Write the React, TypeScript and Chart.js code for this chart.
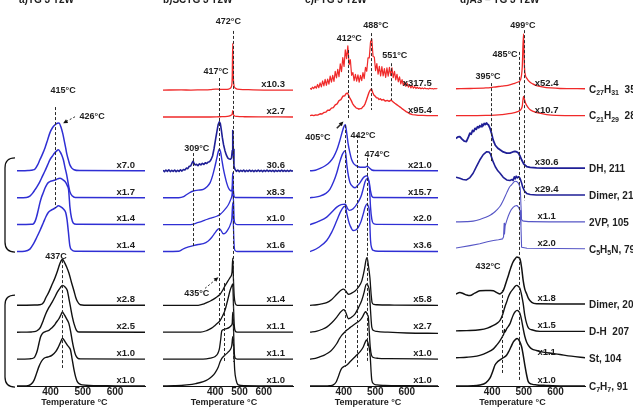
import { useEffect, useRef } from "react";
import { Chart, registerables } from "chart.js";

Chart.register(...registerables);

type Pt = [number, number];

// ---------- a) ----------
const aBlue1: Pt[] = [[296,0],[330,0.01],[345,0.03],[352,0.07],[360,0.22],[367,0.41],[375,0.62],[383,0.86],[391,1.15],[398,1.41],[406,1.6],[414,1.71],[421,1.77],[426,1.78],[433,1.6],[438,1.38],[442,1.15],[447,0.85],[451,0.6],[456,0.38],[460,0.22],[466,0.1],[473,0.04],[490,0.01],[693,0]];
const aBlue2: Pt[] = [[296,0],[325,0.01],[336,0.06],[344,0.16],[352,0.3],[360,0.45],[367,0.6],[375,0.8],[383,1.0],[391,1.22],[398,1.41],[406,1.55],[412,1.65],[419,1.74],[424,1.78],[430,1.7],[435,1.58],[440,1.4],[445,1.12],[450,0.86],[456,0.45],[460,0.22],[468,0.06],[476,0.01],[693,0]];
const aBlue3: Pt[] = [[296,0],[340,0.01],[347,0.03],[352,0.12],[357,0.3],[362,0.55],[367,0.81],[372,1.02],[378,1.2],[383,1.36],[388,1.48],[393,1.56],[398,1.6],[406,1.63],[414,1.66],[422,1.7],[429,1.72],[437,1.68],[445,1.6],[452,1.45],[456,1.3],[458,1.0],[460,0.67],[465,0.25],[471,0.05],[480,0.01],[693,0]];
const aBlue4: Pt[] = [[296,0],[320,0.01],[336,0.09],[347,0.28],[357,0.52],[368,0.8],[378,1.08],[386,1.3],[393,1.45],[401,1.53],[409,1.58],[417,1.64],[424,1.7],[432,1.66],[440,1.58],[447,1.45],[451,1.2],[455,0.77],[460,0.21],[466,0.06],[476,0.01],[693,0]];
const aBlack1: Pt[] = [[296,0],[350,0.01],[365,0.02],[374,0.05],[380,0.14],[385,0.27],[395,0.5],[405,0.78],[413,1.0],[421,1.26],[430,1.58],[437,1.71],[444,1.58],[450,1.42],[457,1.2],[465,0.85],[473,0.52],[478,0.3],[483,0.15],[492,0.02],[520,0],[693,0]];
const aBlack2: Pt[] = [[296,0],[340,0.01],[354,0.03],[362,0.09],[369,0.19],[377,0.42],[385,0.68],[395,0.92],[405,1.12],[413,1.3],[421,1.49],[430,1.65],[437,1.74],[445,1.68],[452,1.55],[457,1.25],[462,0.93],[468,0.55],[473,0.31],[480,0.08],[488,0.01],[693,0]];
const aBlack3: Pt[] = [[296,0],[335,0.01],[349,0.05],[354,0.15],[359,0.32],[364,0.58],[369,0.82],[374,0.94],[380,1.0],[388,1.04],[395,1.07],[403,1.15],[411,1.25],[418,1.37],[426,1.5],[432,1.64],[437,1.75],[442,1.66],[447,1.56],[452,1.45],[457,1.32],[462,1.05],[467,0.7],[472,0.4],[478,0.14],[485,0.03],[493,0.01],[693,0]];
const aBlack4: Pt[] = [[296,0],[325,0],[333,0.02],[341,0.08],[349,0.22],[357,0.48],[364,0.72],[372,0.92],[380,1.03],[388,1.07],[395,1.09],[405,1.15],[416,1.28],[423,1.42],[430,1.6],[437,1.77],[445,1.65],[452,1.52],[458,1.43],[462,1.34],[467,1.0],[473,0.59],[478,0.33],[483,0.16],[490,0.08],[499,0.04],[560,0.01],[620,0],[693,0]];
const aOffsets = [8, 7, 6, 5, 3, 2, 1, 0];
const aFactors = ["x7.0", "x1.7", "x1.4", "x1.4", "x2.8", "x2.5", "x1.0", "x1.0"];
const aPeaks = [415, 426, 437];

// ---------- b) ----------
const bRed1: Pt[] = [[185,0],[260,0.01],[300,0],[340,0.01],[380,0.02],[400,0.04],[420,0.03],[440,0.03],[455,0.04],[462,0.07],[467,0.15],[470,0.5],[472,1.74],[474,0.6],[477,0.18],[482,0.08],[490,0.04],[520,0.02],[600,0],[720,0]];
const bRed2: Pt[] = [[185,0],[380,0],[420,0.01],[450,0.02],[462,0.05],[467,0.08],[470,0.12],[472,0.24],[474,0.12],[478,0.05],[490,0.02],[520,0.01],[720,0]];
const bBlue1: Pt[] = [[185,0.02],[191,-0.03],[197,0.03],[203,-0.02],[209,0.04],[215,-0.03],[221,0.02],[227,-0.02],[233,0.03],[239,-0.03],[245,0.02],[251,-0.02],[257,0.04],[263,-0.01],[269,0.05],[275,0.03],[281,0.1],[287,0.08],[293,0.17],[299,0.18],[305,0.3],[309,0.36],[313,0.27],[317,0.22],[323,0.24],[329,0.19],[335,0.26],[341,0.22],[347,0.28],[353,0.24],[359,0.3],[365,0.27],[371,0.33],[377,0.34],[383,0.42],[389,0.55],[395,0.82],[401,1.15],[407,1.47],[412,1.72],[417,1.82],[421,1.75],[425,1.52],[429,1.25],[434,0.98],[440,0.75],[446,0.58],[452,0.47],[458,0.44],[463,0.43],[467,0.48],[470,0.75],[472,1.5],[474,0.8],[477,0.18],[481,0.06],[487,-0.02],[493,0.03],[499,-0.03],[505,0.02],[511,-0.02],[517,0.03],[523,-0.03],[529,0.02],[535,-0.02],[541,0.03],[547,-0.02],[553,0.02],[559,-0.03],[565,0.02],[571,-0.02],[577,0.03],[583,-0.02],[589,0.02],[595,-0.03],[601,0.02],[607,-0.02],[613,0.03],[619,-0.02],[625,0.02],[631,-0.02],[637,0.02],[643,-0.03],[649,0.02],[655,-0.02],[661,0.02],[667,-0.02],[673,0.03],[679,-0.02],[685,0.02],[691,-0.02],[697,0.02],[703,-0.02],[709,0.02],[715,-0.01],[720,0]];
const bBlue2: Pt[] = [[185,0],[250,0],[270,0.04],[283,0.12],[297,0.2],[310,0.25],[330,0.28],[351,0.31],[365,0.4],[379,0.56],[390,0.85],[399,1.17],[406,1.45],[413,1.73],[417,1.8],[422,1.7],[427,1.42],[433,1.1],[440,0.8],[447,0.55],[454,0.37],[461,0.28],[467,0.25],[470,0.45],[472,0.93],[474,0.4],[477,0.08],[482,0.01],[720,0]];
const bBlue3: Pt[] = [[185,0],[290,0],[310,0.02],[324,0.06],[345,0.12],[365,0.19],[385,0.25],[406,0.31],[420,0.38],[433,0.49],[445,0.62],[454,0.74],[462,0.9],[468,1.05],[472,1.3],[475,0.9],[478,0.2],[482,0.04],[490,0],[720,0]];
const bBlue4: Pt[] = [[185,0],[250,0.01],[269,0.1],[290,0.17],[310,0.22],[330,0.26],[351,0.29],[370,0.38],[386,0.53],[398,0.68],[406,0.78],[413,0.84],[417,0.85],[424,0.78],[433,0.66],[443,0.7],[454,0.84],[462,1.0],[468,1.22],[472,1.82],[475,0.9],[478,0.2],[482,0.03],[490,0],[720,0]];
const bBlack1: Pt[] = [[185,0],[330,0],[350,0.04],[365,0.1],[380,0.16],[392,0.22],[405,0.3],[420,0.41],[430,0.55],[440,0.72],[450,0.87],[461,1.03],[469,1.23],[472,1.75],[475,0.95],[478,0.35],[482,0.08],[490,0],[720,0]];
const bBlack2: Pt[] = [[185,0],[340,0],[365,0.06],[385,0.15],[399,0.25],[410,0.34],[420,0.43],[430,0.6],[440,0.81],[450,1.15],[461,1.55],[468,1.72],[472,1.8],[475,1.0],[478,0.3],[482,0.05],[490,0],[720,0]];
const bBlack3: Pt[] = [[185,0],[350,0],[380,0.04],[400,0.1],[410,0.2],[417,0.38],[422,0.7],[427,1.05],[435,1.1],[447,1.13],[458,1.18],[466,1.25],[470,1.35],[472,1.75],[475,1.2],[478,0.3],[482,0.04],[490,0],[720,0]];
const bBlack4: Pt[] = [[185,0],[230,0.01],[260,0.02],[283,0.04],[320,0.09],[351,0.16],[370,0.24],[386,0.35],[400,0.5],[413,0.72],[420,0.9],[427,1.03],[440,1.15],[452,1.25],[461,1.34],[468,1.5],[472,1.83],[476,1.4],[480,0.6],[486,0.22],[495,0.04],[520,0.01],[720,0]];
const bOffsets = [11, 10, 8, 7, 6, 5, 3, 2, 1, 0];
const bFactors = ["x10.3", "x2.7", "30.6", "x8.3", "x1.0", "x1.6", "x1.4", "x1.1", "x1.1", "x1.0"];
const bPeaks = [472, 417, 309, 435];

// ---------- c) ----------
const cRed1Start = 293;
const cRed1Step = 4;
const cRed1: number[] = [0.02,-0.02,0.06,0.01,0.09,0.02,0.16,0.04,0.22,0.07,0.29,0.11,0.35,0.13,0.36,0.17,0.47,0.25,0.5,0.27,0.65,0.4,0.72,0.45,0.93,0.64,1.16,0.83,1.45,1.12,1.6,0.9,1.08,0.5,0.6,0.3,0.54,0.28,0.52,0.25,0.5,0.3,0.6,0.38,0.8,0.65,1.15,1.15,1.75,1.85,1.2,1.18,0.67,0.94,0.54,0.83,0.48,0.82,0.48,0.75,0.42,0.78,0.47,0.8,0.5,0.78,0.41,0.65,0.33,0.54,0.26,0.44,0.18,0.34,0.13,0.26,0.09,0.21,0.06,0.15,0.03,0.11,0.02,0.08,0.01,0.06,0.01,0.04,0,0.03,0,0.03,0,0.01,-0.01,0.02,0,0.01,-0.01,0.01,0,0.01];
const cRed2: Pt[] = [[293,0],[299,0.02],[305,0.0],[311,0.03],[317,0.02],[325,0.07],[331,0.06],[337,0.12],[343,0.13],[349,0.2],[355,0.2],[361,0.28],[367,0.3],[373,0.4],[379,0.44],[385,0.56],[391,0.6],[397,0.72],[403,0.74],[408,0.83],[412,0.84],[416,0.74],[420,0.64],[424,0.56],[428,0.45],[432,0.38],[436,0.33],[440,0.28],[444,0.27],[448,0.24],[452,0.26],[456,0.26],[460,0.32],[464,0.36],[468,0.45],[472,0.58],[476,0.72],[480,0.86],[484,0.95],[488,1.0],[492,0.86],[496,0.76],[500,0.72],[504,0.66],[508,0.66],[512,0.6],[516,0.63],[520,0.58],[526,0.6],[532,0.54],[538,0.57],[544,0.53],[550,0.58],[556,0.52],[562,0.46],[568,0.41],[574,0.36],[580,0.31],[586,0.25],[592,0.2],[598,0.15],[604,0.11],[610,0.07],[618,0.04],[626,0.03],[636,0.01],[650,0.01],[665,0],[699,0]];
const cBlue1: Pt[] = [[293,0],[310,0.02],[325,0.09],[340,0.18],[356,0.33],[368,0.52],[378,0.77],[388,1.14],[396,1.48],[401,1.65],[405,1.71],[409,1.45],[414,1.0],[420,0.65],[425,0.42],[431,0.28],[438,0.2],[446,0.15],[458,0.13],[468,0.13],[474,0.17],[480,0.12],[489,0.03],[500,0.01],[699,0]];
const cBlue2: Pt[] = [[293,0],[310,0.02],[325,0.06],[342,0.15],[356,0.31],[368,0.6],[378,0.93],[388,1.35],[396,1.62],[405,1.75],[410,1.2],[415,0.8],[420,0.56],[428,0.42],[436,0.37],[444,0.45],[452,0.56],[462,0.74],[469,0.8],[474,0.82],[478,0.7],[481,0.56],[485,0.25],[489,0.06],[495,0.01],[699,0]];
const cBlue3: Pt[] = [[293,0],[303,0.04],[320,0.12],[346,0.28],[365,0.5],[378,0.65],[392,0.74],[405,0.76],[412,0.6],[418,0.53],[430,0.59],[446,0.84],[455,1.05],[462,1.34],[468,1.6],[474,1.71],[478,1.65],[481,1.52],[485,0.65],[489,0.2],[494,0.04],[505,0.01],[699,0]];
const cBlue4: Pt[] = [[293,0],[303,0.04],[320,0.15],[346,0.41],[362,0.72],[378,1.15],[390,1.48],[400,1.66],[405,1.68],[410,1.4],[415,1.15],[420,0.97],[430,0.78],[438,0.8],[446,0.9],[455,1.12],[462,1.4],[468,1.65],[474,1.77],[478,1.68],[481,1.52],[485,0.41],[489,0.12],[494,0.04],[510,0.01],[699,0]];
const cBlack1: Pt[] = [[293,0],[315,0.02],[330,0.05],[346,0.1],[362,0.22],[378,0.41],[390,0.55],[400,0.6],[407,0.52],[415,0.41],[425,0.45],[436,0.53],[447,0.68],[457,0.9],[465,1.3],[471,1.7],[474,1.77],[478,1.5],[483,1.03],[487,0.4],[490,0.1],[496,0.03],[505,0.02],[560,0.01],[699,0]];
const cBlack2: Pt[] = [[293,0],[315,0.04],[330,0.1],[346,0.19],[362,0.35],[378,0.56],[390,0.75],[400,0.84],[406,0.75],[415,0.5],[424,0.55],[436,0.68],[447,0.92],[457,1.18],[465,1.5],[470,1.75],[474,1.8],[478,1.7],[481,1.55],[485,0.8],[489,0.19],[495,0.06],[505,0.03],[540,0.0],[600,-0.03],[699,-0.04]];
const cBlack3: Pt[] = [[293,0],[310,0.03],[325,0.09],[340,0.16],[356,0.27],[368,0.42],[378,0.58],[386,0.75],[394,0.89],[402,0.99],[410,1.08],[420,1.17],[430,1.26],[441,1.35],[452,1.45],[460,1.58],[466,1.72],[470,1.76],[475,1.65],[478,1.57],[481,1.0],[484,0.46],[488,0.15],[494,0.06],[510,0.03],[540,0.02],[699,0]];
const cBlack4: Pt[] = [[293,0],[340,0],[355,0.01],[367,0.04],[376,0.15],[383,0.35],[388,0.52],[394,0.66],[400,0.72],[410,0.78],[420,0.9],[431,1.03],[441,1.15],[452,1.28],[462,1.45],[470,1.68],[473,1.71],[477,1.6],[481,1.4],[484,1.1],[487,0.5],[489,0.22],[495,0.08],[505,0.04],[530,0.02],[600,0.01],[699,0]];
const cOffsets = [11.05, 10.05, 8, 7, 6, 5, 3, 2, 1, 0];
const cFactors = ["x317.5", "x95.4", "x21.0", "x15.7", "x2.0", "x3.6", "x5.8", "x2.7", "x1.0", "x1.0"];
const cPeaks = [412, 488, 551, 405, 442, 474];

// ---------- d) ----------
const dRed1: Pt[] = [[286,0],[330,0.01],[380,0.03],[404,0.06],[430,0.1],[450,0.13],[467,0.19],[482,0.25],[490,0.35],[495,0.8],[499,2.04],[502,0.8],[505,0.5],[510,0.38],[518,0.26],[528,0.18],[540,0.12],[562,0.06],[585,0.03],[614,0.01],[693,0]];
const dRed2: Pt[] = [[286,0],[380,0.01],[430,0.04],[467,0.1],[480,0.15],[490,0.22],[495,0.35],[499,0.72],[502,0.6],[506,0.45],[512,0.33],[520,0.22],[530,0.16],[545,0.1],[572,0.04],[600,0.01],[693,0]];
const dBlue1: Pt[] = [[286,1.1],[292,1.16],[298,1.17],[305,1.08],[312,1.0],[319,0.99],[325,1.15],[330,1.3],[334,1.26],[338,1.4],[342,1.36],[346,1.48],[350,1.44],[354,1.54],[358,1.5],[361,1.58],[365,1.54],[368,1.63],[372,1.58],[375,1.66],[379,1.62],[382,1.68],[386,1.62],[388,1.62],[393,1.49],[398,1.3],[403,1.05],[410,0.85],[418,0.74],[425,0.68],[435,0.6],[446,0.56],[456,0.56],[465,0.6],[472,0.62],[478,0.6],[483,0.56],[488,0.45],[493,0.31],[500,0.15],[509,0.06],[520,0.03],[540,0.01],[562,0],[693,0]];
const dBlue2: Pt[] = [[286,0.66],[292,0.64],[298,0.62],[308,0.58],[319,0.56],[330,0.65],[340,0.81],[350,1.05],[361,1.3],[372,1.5],[383,1.61],[390,1.6],[395,1.52],[403,1.24],[410,1.05],[418,0.9],[425,0.81],[435,0.66],[446,0.56],[456,0.54],[463,0.58],[466,0.54],[470,0.68],[473,0.6],[476,0.7],[480,0.64],[484,0.68],[488,0.62],[493,0.45],[496,0.31],[502,0.15],[509,0.06],[520,0.02],[540,0],[693,0]];
const dBlue3: Pt[] = [[286,0],[320,0.01],[340,0.03],[361,0.09],[380,0.17],[395,0.26],[404,0.33],[415,0.45],[425,0.58],[435,0.8],[446,1.08],[455,1.3],[462,1.39],[467,1.46],[472,1.51],[477,1.5],[482,1.45],[486,1.35],[489,1.2],[491,0.6],[493,0.09],[500,0.03],[520,0.01],[693,0]];
const dBlue4: Pt[] = [[286,0.03],[300,0.06],[330,0.12],[361,0.19],[385,0.26],[404,0.31],[420,0.34],[433,0.37],[436,0.45],[438,0.95],[439,0.55],[441,0.85],[446,1.05],[451,1.22],[456,1.36],[461,1.47],[467,1.55],[472,1.59],[478,1.61],[483,1.55],[488,1.42],[491,0.8],[493,0.06],[510,0.02],[693,0]];
const dBlack1: Pt[] = [[286,0.37],[298,0.43],[310,0.38],[320,0.33],[330,0.31],[345,0.4],[361,0.49],[380,0.5],[395,0.5],[404,0.49],[415,0.42],[425,0.37],[430,0.42],[435,0.49],[440,0.65],[446,0.87],[451,1.05],[456,1.24],[462,1.45],[467,1.58],[472,1.67],[478,1.75],[484,1.72],[488,1.67],[493,1.35],[498,0.87],[503,0.55],[509,0.37],[515,0.2],[525,0.06],[540,0.01],[693,0]];
const dBlack2: Pt[] = [[286,0.02],[320,0.03],[361,0.06],[385,0.12],[404,0.22],[415,0.3],[425,0.41],[433,0.62],[440,0.9],[446,1.1],[451,1.28],[458,1.45],[467,1.59],[472,1.67],[478,1.71],[483,1.67],[488,1.59],[493,1.35],[498,1.03],[503,0.6],[509,0.29],[515,0.12],[525,0.06],[551,0],[693,0]];
const dBlack3: Pt[] = [[286,0],[320,0.02],[340,0.04],[361,0.09],[385,0.2],[404,0.33],[415,0.48],[425,0.64],[433,0.8],[437,0.9],[439,1.05],[440,0.95],[446,1.08],[456,1.26],[462,1.45],[467,1.6],[472,1.7],[479,1.76],[484,1.72],[488,1.64],[493,1.4],[498,1.08],[503,0.8],[509,0.58],[517,0.42],[525,0.33],[540,0.27],[561,0.21],[590,0.16],[614,0.12],[650,0.06],[693,0]];
const dBlack4: Pt[] = [[286,0],[340,0.01],[361,0.04],[380,0.12],[393,0.29],[402,0.55],[409,0.78],[417,0.9],[425,0.97],[435,1.05],[446,1.15],[454,1.32],[462,1.52],[467,1.64],[472,1.71],[479,1.77],[486,1.68],[493,1.46],[498,1.15],[504,0.72],[509,0.4],[514,0.16],[525,0.07],[541,0.04],[570,0.02],[614,0],[693,0]];
const dOffsets = [11.05, 10.05, 8.1, 7.1, 6.1, 5.1, 3.05, 2.03, 1.05, 0];
const dFactors = ["x52.4", "x10.7", "x30.6", "x29.4", "x1.1", "x2.0", "x1.8", "x1.5", "x1.1", "x1.0"];
const dSpecies = ["C_{27}H_{31}  351", "C_{21}H_{29}  281", "DH, 211", "Dimer, 210", "2VP, 105", "C_{5}H_{5}N, 79", "Dimer, 208", "D-H  207", "St, 104", "C_{7}H_{7}, 91"];
const dPeaks = [499, 485, 395, 432];

const tickValues = [400, 500, 600];

// ---------- styling ----------
const W = 633;
const H = 407;
const FONT = '"Liberation Sans", Arial, Helvetica, sans-serif';
const INK = "#1e1e1e";
const RED = "#f02a2a";
const BLUE = "#2f2fd4";
const NAVY = "#1f1f96";
const LBLUE = "#5656c6";
const BLACK = "#111111";
const SLOT_TOP = 14.35; // y range in baseline-slot units

interface Trace { pts: Pt[]; off: number; color: string; lw: number; jagged: boolean; factor: string; species?: string; }
interface Guide { t: number; from: number; to: number; }
interface Note { text: string; t: number; y: number; }
interface Arrow { t0: number; y0: number; t1: number; y1: number; dashed: boolean; }
interface Panel {
  key: string; title: string; titleDx: number;
  left: number; right: number; tMin: number; tMax: number;
  traces: Trace[]; guides: Guide[]; notes: Note[]; arrows: Arrow[];
  factorT: number; factorAlign: CanvasTextAlign; axisTitleT: number;
  brackets: [number, number][];
}

function makeTraces(series: Pt[][], offs: number[], factors: string[], colors: string[], widths: number[], jagged: boolean[], species?: string[]): Trace[] {
  return series.map((pts, i) => ({ pts, off: offs[i], color: colors[i], lw: widths[i], jagged: jagged[i], factor: factors[i], species: species ? species[i] : undefined }));
}

const deg = (t: number) => `${t}°C`;

const panels: Panel[] = [
  {
    key: "a", title: "a)TG 3 T2W", titleDx: 2, left: 17, right: 145, tMin: 296, tMax: 693,
    traces: makeTraces(
      [aBlue1, aBlue2, aBlue3, aBlue4, aBlack1, aBlack2, aBlack3, aBlack4], aOffsets, aFactors,
      [BLUE, BLUE, BLUE, BLUE, BLACK, BLACK, BLACK, BLACK],
      [1.5, 1.5, 1.5, 1.5, 1.4, 1.4, 1.4, 1.4],
      [false, false, false, false, false, false, false, false]),
    guides: [{ t: aPeaks[0], from: 10.37, to: 6.62 }, { t: aPeaks[2], from: 4.68, to: 0.67 }],
    notes: [{ text: deg(aPeaks[0]), t: 439, y: 11.0 }, { text: deg(aPeaks[1]), t: 529, y: 10.0 }, { text: `${aPeaks[2]}C`, t: 417, y: 4.83 }],
    arrows: [{ t0: 476, y0: 10.01, t1: 439, y1: 9.77, dashed: true }],
    factorT: 662, factorAlign: "right", axisTitleT: 474,
    brackets: [[8.48, 4.98], [3.38, -0.04]],
  },
  {
    key: "b", title: "b)SCTG 3 T2W", titleDx: 0, left: 163, right: 293, tMin: 185, tMax: 720,
    traces: makeTraces(
      [bRed1, bRed2, bBlue1, bBlue2, bBlue3, bBlue4, bBlack1, bBlack2, bBlack3, bBlack4], bOffsets, bFactors,
      [RED, RED, NAVY, BLUE, BLUE, BLUE, BLACK, BLACK, BLACK, BLACK],
      [1.3, 1.3, 1.6, 1.4, 1.3, 1.3, 1.3, 1.3, 1.3, 1.3],
      [false, false, true, false, false, false, false, false, false, false]),
    guides: [{ t: bPeaks[0], from: 13.2, to: 0.9 }, { t: bPeaks[1], from: 11.45, to: 2.27 }, { t: bPeaks[2], from: 8.66, to: 5.17 }, { t: bPeaks[3], from: 3.83, to: 0.86 }],
    notes: [{ text: deg(bPeaks[0]), t: 454, y: 13.54 }, { text: deg(bPeaks[1]), t: 403, y: 11.68 }, { text: deg(bPeaks[2]), t: 324, y: 8.84 }, { text: deg(bPeaks[3]), t: 324, y: 3.45 }],
    arrows: [{ t0: 358, y0: 3.63, t1: 413, y1: 4.04, dashed: true }],
    factorT: 687, factorAlign: "right", axisTitleT: 436,
    brackets: [],
  },
  {
    key: "c", title: "c)PTG 3 T2W", titleDx: -5, left: 310, right: 438, tMin: 293, tMax: 699,
    traces: makeTraces(
      [cRed1.map((v, i) => [cRed1Start + i * cRed1Step, v] as Pt), cRed2, cBlue1, cBlue2, cBlue3, cBlue4, cBlack1, cBlack2, cBlack3, cBlack4], cOffsets, cFactors,
      [RED, RED, BLUE, BLUE, BLUE, BLUE, BLACK, BLACK, BLACK, BLACK],
      [1.2, 1.4, 1.4, 1.4, 1.4, 1.4, 1.3, 1.3, 1.3, 1.3],
      [true, true, false, false, false, false, false, false, false, false]),
    guides: [{ t: cPeaks[0], from: 12.49, to: 9.89 }, { t: cPeaks[1], from: 13.12, to: 10.26 }, { t: cPeaks[2], from: 12.0, to: 10.63 }, { t: cPeaks[3], from: 9.7, to: 0.71 }, { t: cPeaks[4], from: 9.33, to: 0.71 }, { t: cPeaks[5], from: 8.48, to: 0.89 }],
    notes: [{ text: deg(cPeaks[0]), t: 417.5, y: 12.92 }, { text: deg(cPeaks[1]), t: 502, y: 13.42 }, { text: deg(cPeaks[2]), t: 562, y: 12.27 }, { text: deg(cPeaks[3]), t: 318, y: 9.22 }, { text: deg(cPeaks[4]), t: 461, y: 9.33 }, { text: deg(cPeaks[5]), t: 506, y: 8.62 }],
    arrows: [{ t0: 378, y0: 9.58, t1: 399, y1: 9.83, dashed: false }],
    factorT: 679, factorAlign: "right", axisTitleT: 477,
    brackets: [],
  },
  {
    key: "d", title: "d)As – TG 3 T2W", titleDx: 4, left: 456, right: 585, tMin: 286, tMax: 693,
    traces: makeTraces(
      [dRed1, dRed2, dBlue1, dBlue2, dBlue3, dBlue4, dBlack1, dBlack2, dBlack3, dBlack4], dOffsets, dFactors,
      [RED, RED, NAVY, NAVY, LBLUE, LBLUE, BLACK, BLACK, BLACK, BLACK],
      [1.3, 1.3, 1.8, 1.6, 1.1, 1.1, 1.5, 1.4, 1.4, 1.5],
      [false, false, true, true, false, true, false, false, false, false], dSpecies),
    guides: [{ t: dPeaks[0], from: 13.23, to: 6.9 }, { t: dPeaks[1], from: 12.42, to: 0.22 }, { t: dPeaks[2], from: 11.26, to: 8.29 }, { t: dPeaks[3], from: 3.57, to: 0.48 }],
    notes: [{ text: deg(dPeaks[0]), t: 497, y: 13.42 }, { text: deg(dPeaks[1]), t: 440.5, y: 12.34 }, { text: deg(dPeaks[2]), t: 387, y: 11.52 }, { text: deg(dPeaks[3]), t: 387, y: 4.43 }],
    arrows: [],
    factorT: 572, factorAlign: "center", axisTitleT: 464,
    brackets: [],
  },
];

function drawRich(ctx: CanvasRenderingContext2D, text: string, x: number, y: number, size: number) {
  const parts = text.split(/(_\{[^}]*\})/).filter(Boolean);
  let cx = x;
  for (const part of parts) {
    const sub = part.startsWith("_{");
    const s = sub ? part.slice(2, -1) : part;
    ctx.font = `bold ${sub ? Math.round(size * 0.7) : size}px ${FONT}`;
    ctx.fillText(s, cx, sub ? y + size * 0.3 : y);
    cx += ctx.measureText(s).width;
  }
}

function decorPlugin(p: Panel) {
  return {
    id: "decor_" + p.key,
    afterDatasetsDraw(chart: any) {
      const { ctx, chartArea } = chart;
      const X = (t: number) => chart.scales.x.getPixelForValue(t);
      const Y = (v: number) => chart.scales.y.getPixelForValue(v);
      ctx.save();

      // dashed peak guides
      ctx.strokeStyle = "#2b2b2b";
      ctx.lineWidth = 1;
      ctx.setLineDash([3, 2]);
      for (const g of p.guides) {
        const x = Math.round(X(g.t)) + 0.5;
        ctx.beginPath();
        ctx.moveTo(x, Y(g.from));
        ctx.lineTo(x, Y(g.to));
        ctx.stroke();
      }

      // arrows pointing at peaks
      for (const a of p.arrows) {
        const x0 = X(a.t0), y0 = Y(a.y0), x1 = X(a.t1), y1 = Y(a.y1);
        const ang = Math.atan2(y1 - y0, x1 - x0);
        ctx.setLineDash(a.dashed ? [2, 2] : []);
        ctx.lineWidth = a.dashed ? 1 : 1.6;
        ctx.beginPath();
        ctx.moveTo(x0, y0);
        ctx.lineTo(x1 - 3 * Math.cos(ang), y1 - 3 * Math.sin(ang));
        ctx.stroke();
        ctx.setLineDash([]);
        ctx.fillStyle = "#111";
        ctx.beginPath();
        ctx.moveTo(x1, y1);
        ctx.lineTo(x1 - 5 * Math.cos(ang - 0.45), y1 - 5 * Math.sin(ang - 0.45));
        ctx.lineTo(x1 - 5 * Math.cos(ang + 0.45), y1 - 5 * Math.sin(ang + 0.45));
        ctx.closePath();
        ctx.fill();
      }
      ctx.setLineDash([]);

      // group brackets
      ctx.strokeStyle = "#111";
      ctx.lineWidth = 1.3;
      for (const [top, bot] of p.brackets) {
        const x0 = chartArea.left - 12, x1 = chartArea.left - 2;
        const yt = Y(top), yb = Y(bot);
        ctx.beginPath();
        ctx.moveTo(x1, yt);
        ctx.quadraticCurveTo(x0, yt, x0, yt + 10);
        ctx.lineTo(x0, yb - 10);
        ctx.quadraticCurveTo(x0, yb, x1, yb);
        ctx.stroke();
      }

      ctx.fillStyle = INK;
      ctx.textBaseline = "middle";

      // peak temperature labels
      ctx.textAlign = "center";
      ctx.font = `bold 9px ${FONT}`;
      for (const n of p.notes) ctx.fillText(n.text, X(n.t), Y(n.y));

      // multiplication factors above each baseline
      ctx.textAlign = p.factorAlign;
      ctx.textBaseline = "bottom";
      ctx.font = `bold 9.5px ${FONT}`;
      for (const tr of p.traces) ctx.fillText(tr.factor, X(p.factorT), Y(tr.off) - 1);

      // species labels on the right
      ctx.textAlign = "left";
      ctx.textBaseline = "middle";
      for (const tr of p.traces) {
        if (tr.species) drawRich(ctx, tr.species, chartArea.right + 4, Y(tr.off) + 1, 10);
      }

      // axis title and panel title
      ctx.textAlign = "center";
      ctx.font = `bold 9px ${FONT}`;
      ctx.fillText("Temperature °C", X(p.axisTitleT), chartArea.bottom + 17);
      ctx.textAlign = "left";
      ctx.font = `bold 10px ${FONT}`;
      ctx.fillText(p.title, chartArea.left + p.titleDx, 0);

      ctx.restore();
    },
  };
}

function PanelChart({ panel }: { panel: Panel }) {
  const ref = useRef<HTMLCanvasElement | null>(null);
  useEffect(() => {
    const canvas = ref.current;
    if (!canvas) return;
    const chart = new Chart(canvas, {
      type: "line",
      data: {
        datasets: panel.traces.map((tr) => ({
          data: tr.pts.map(([t, v]) => ({ x: t, y: tr.off + v })),
          borderColor: tr.color,
          borderWidth: tr.lw,
          pointRadius: 0,
          fill: false,
          tension: tr.jagged ? 0 : 0.4,
          cubicInterpolationMode: tr.jagged ? "default" : "monotone",
          borderJoinStyle: "round",
        })),
      },
      options: {
        animation: false,
        responsive: false,
        maintainAspectRatio: false,
        events: [],
        layout: { padding: { left: panel.left, right: W - panel.right, top: 0, bottom: 9 } },
        plugins: { legend: { display: false }, tooltip: { enabled: false }, title: { display: false } },
        scales: {
          x: {
            type: "linear",
            min: panel.tMin,
            max: panel.tMax,
            grid: { display: false, drawTicks: false },
            border: { display: true, color: BLACK, width: 1 },
            ticks: { color: INK, padding: 0, maxRotation: 0, autoSkip: false, font: { family: FONT, size: 10, weight: "bold" } },
            afterBuildTicks: (scale: any) => { scale.ticks = tickValues.map((value) => ({ value })); },
          },
          y: { type: "linear", display: false, min: 0, max: SLOT_TOP },
        },
      },
      plugins: [decorPlugin(panel)],
    } as any);
    return () => chart.destroy();
  }, [panel]);
  return <canvas ref={ref} width={W} height={H} style={{ position: "absolute", left: 0, top: 0, width: W, height: H }} />;
}

export default function App() {
  return (
    <div style={{ position: "fixed", left: 0, top: 0, width: W, height: H, overflow: "hidden", background: "#ffffff" }}>
      {panels.map((p) => <PanelChart key={p.key} panel={p} />)}
    </div>
  );
}
